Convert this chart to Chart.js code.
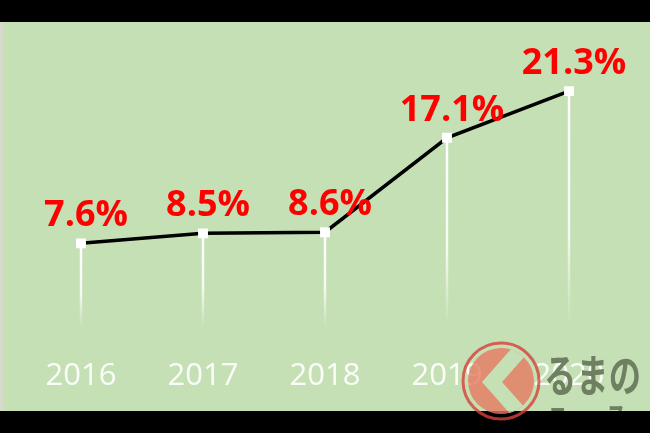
<!DOCTYPE html>
<html>
<head>
<meta charset="utf-8">
<script src="https://cdn.jsdelivr.net/npm/chart.js@4"></script>
<style>
  html, body { margin: 0; padding: 0; background: #000; }
  #wrap { position: relative; width: 650px; height: 433px; overflow: hidden; }
  #green { position: absolute; left: 0; top: 22px; width: 647px; height: 389px; background: #c5e0b4; border-left: 3px solid #d5dacd; }
  #myChart { position: absolute; left: 0; top: 0; }
  #mark { position: absolute; left: 0; top: 0; }
</style>
</head>
<body>
<div id="wrap">
  <div id="green"></div>
  <canvas id="myChart" width="650" height="433"></canvas>
  <svg id="mark" width="650" height="433">
    <clipPath id="disc"><circle cx="501" cy="381" r="33"/></clipPath>
    <g opacity="0.8">
      <circle cx="501" cy="381" r="38" fill="none" stroke="#d8403c" stroke-width="3"/>
      <circle cx="501" cy="381" r="33" fill="#e57a62"/>
      <polyline points="522,348 492,382 522,416" fill="none" stroke="#c5e0b4" stroke-width="15" clip-path="url(#disc)"/>
    </g>
    <clipPath id="clip"><rect x="0" y="22" width="650" height="389"/></clipPath>
    <g clip-path="url(#clip)" fill="#6f7f62" font-family="Noto Sans CJK JP" font-weight="bold">
      <text x="544" y="392" font-size="44" textLength="97" lengthAdjust="spacingAndGlyphs">るまの</text>
      <text x="548" y="428" font-size="30" textLength="78" lengthAdjust="spacingAndGlyphs">ニュース</text>
    </g>
  </svg>
</div>
<script>
const years = ['2016', '2017', '2018', '2019', '2020'];
const shares = [7.6, 8.5, 8.6, 17.1, 21.3];
const shareLabels = ['7.6%', '8.5%', '8.6%', '17.1%', '21.3%'];

// white drop lines that fade out toward the bottom
const dropLines = {
  id: 'dropLines',
  beforeDatasetsDraw(chart) {
    const { ctx } = chart;
    const base = chart.scales.y.getPixelForValue(0);
    chart.getDatasetMeta(0).data.forEach((pt) => {
      const g = ctx.createLinearGradient(0, pt.y, 0, base);
      g.addColorStop(0, 'rgba(255,255,255,1)');
      g.addColorStop(0.6, 'rgba(255,255,255,0.8)');
      g.addColorStop(1, 'rgba(255,255,255,0)');
      ctx.save();
      ctx.strokeStyle = g;
      ctx.lineWidth = 2.5;
      ctx.beginPath();
      ctx.moveTo(pt.x, pt.y);
      ctx.lineTo(pt.x, base);
      ctx.stroke();
      ctx.restore();
    });
  }
};

const valueLabels = {
  id: 'valueLabels',
  afterDatasetsDraw(chart) {
    const { ctx } = chart;
    ctx.save();
    ctx.fillStyle = '#ff0000';
    ctx.font = 'bold 36px "Open Sans"';
    ctx.textAlign = 'center';
    ctx.textBaseline = 'alphabetic';
    chart.getDatasetMeta(0).data.forEach((pt, i) => {
      ctx.fillText(shareLabels[i], pt.x + 5, pt.y - 17);
    });
    ctx.restore();
  }
};

const ctx = document.getElementById('myChart').getContext('2d');
new Chart(ctx, {
  type: 'line',
  data: {
    labels: years,
    datasets: [{
      data: shares,
      borderColor: '#000',
      borderWidth: 3.5,
      tension: 0,
      pointStyle: 'rect',
      pointRadius: 7,
      pointBorderWidth: 0,
      pointBackgroundColor: '#fff',
      pointHoverRadius: 7
    }]
  },
  options: {
    responsive: false,
    animation: false,
    layout: { padding: { left: 20, right: 20, top: 50, bottom: 8 } },
    plugins: { legend: { display: false }, tooltip: { enabled: false } },
    scales: {
      x: {
        offset: true,
        grid: { display: false, drawTicks: false },
        border: { display: false },
        ticks: {
          color: 'rgba(255,255,255,0.92)',
          padding: 30,
          font: { family: 'Open Sans', size: 31 }
        }
      },
      y: { display: false, min: 0, max: 25 }
    }
  },
  plugins: [dropLines, valueLabels]
});
</script>
</body>
</html>
